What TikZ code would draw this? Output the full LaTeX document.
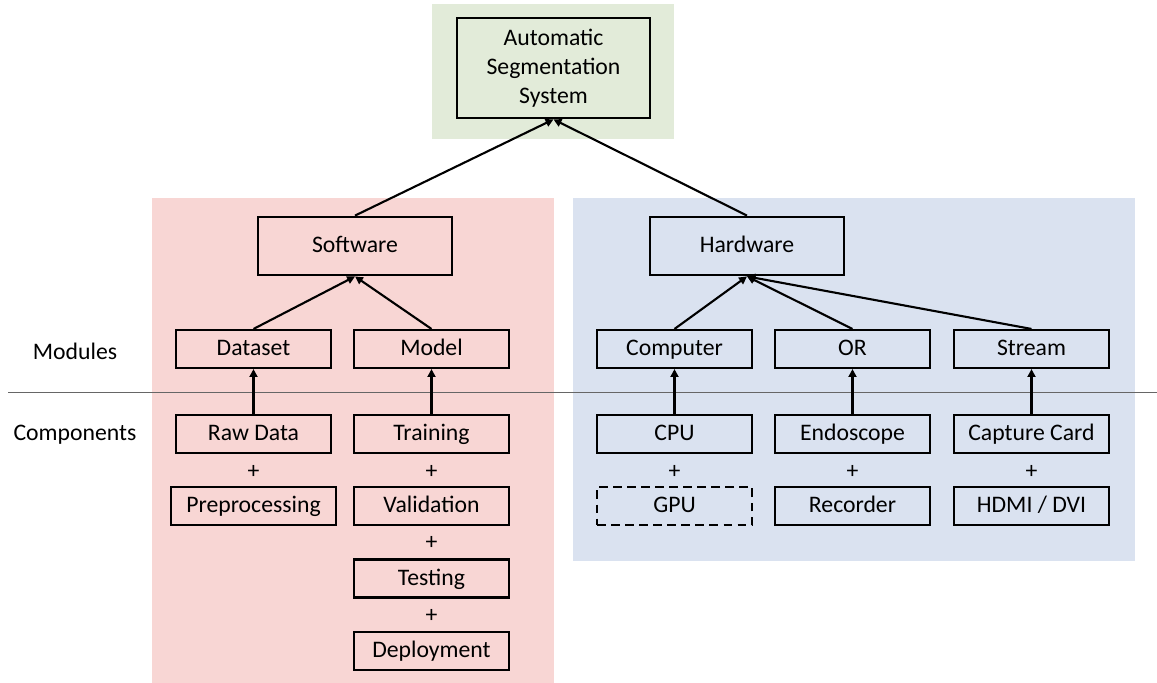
\documentclass[tikz,border=0pt]{standalone}
\usepackage{fontspec}
\setmainfont{Carlito}
\usepackage{tikz}
\usetikzlibrary{arrows,arrows.meta}
\usetikzlibrary{backgrounds,calc,positioning}
\definecolor{sysgreen}{RGB}{226,235,217}
\definecolor{swred}{RGB}{248,214,212}
\definecolor{hwblue}{RGB}{218,226,240}
\tikzset{
    box/.style={draw, line width=1.2pt, minimum width=3.1cm, minimum height=0.76cm,
        inner sep=0pt, text height=0.9em, text depth=0.12em},
    bigbox/.style={draw, line width=1.6pt, minimum width=3.88cm, minimum height=1.16cm,
        inner sep=0pt, text height=0.9em, text depth=0.12em},
    optbox/.style={box, dashed, dash pattern=on 5pt off 3pt},
    plus/.style={inner sep=0pt},
    link/.style={line width=1.2pt, -{Triangle[length=4.5pt,width=4.5pt]}}
}
\begin{document}
\begin{tikzpicture}[x=0.02cm, y=-0.02cm, font=\fontsize{13.5}{16}\selectfont]
    \useasboundingbox (0,0) rectangle (1157,683);
    \def \ymod {349}
    \def \ycomp {434}
    % background panels
    \fill[sysgreen] (432,4) rectangle (674,139);
    \fill[swred] (152,198) rectangle (554,683);
    \fill[hwblue] (573,198) rectangle (1135,561);
    \draw[gray!80!black, line width=0.5pt] (8,392) -- (1157,392);
    % row labels
    \node (lmod) at (75,351) {Modules};
    \node (lcomp) at (75,435) {Components};
    % top
    \node[draw, line width=1.6pt, minimum width=3.86cm, minimum height=2cm, align=center,
        inner sep=0pt, font=\fontsize{13.5}{16.5}\selectfont] (sys) at (553.5,68)
        {Automatic\\Segmentation\\System};
    \node[bigbox] (sw) at (355,246) {Software};
    \node[bigbox] (hw) at (747,246) {Hardware};
    % modules
    \node[box] (dataset) at (253.5,\ymod) {Dataset};
    \node[box] (model) at (431.5,\ymod) {Model};
    \node[box] (computer) at (674.5,\ymod) {Computer};
    \node[box] (or) at (852.5,\ymod) {OR};
    \node[box] (stream) at (1031.5,\ymod) {Stream};
    % components
    \node[box] (raw) at (253.5,\ycomp) {Raw Data};
    \node[box, minimum width=3.3cm] (prep) at (253.5,506) {Preprocessing};
    \node[box] (train) at (431.5,\ycomp) {Training};
    \node[box] (valid) at (431.5,506) {Validation};
    \node[box] (test) at (431.5,578.5) {Testing};
    \node[box] (deploy) at (431.5,651) {Deployment};
    \node[box] (cpu) at (674.5,\ycomp) {CPU};
    \node[optbox] (gpu) at (674.5,506) {GPU};
    \node[box] (endo) at (852.5,\ycomp) {Endoscope};
    \node[box] (rec) at (852.5,506) {Recorder};
    \node[box] (cap) at (1031.5,\ycomp) {Capture Card};
    \node[box] (hdmi) at (1031.5,506) {HDMI / DVI};
    % plus signs
    \node[plus] (p1) at (253.5,472) {+};
    \node[plus] (p2) at (431.5,472) {+};
    \node[plus] (p3) at (431.5,543) {+};
    \node[plus] (p4) at (431.5,616) {+};
    \node[plus] (p5) at (674.5,472) {+};
    \node[plus] (p6) at (852.5,472) {+};
    \node[plus] (p7) at (1031.5,472) {+};
    % arrows
    \draw[link] (sw.north) -- (sys.south);
    \draw[link] (hw.north) -- (sys.south);
    \draw[link] (dataset.north) -- (sw.south);
    \draw[link] (model.north) -- (sw.south);
    \foreach \m in {computer, or, stream}{
    \draw[link] (\m.north) -- (hw.south);}
    \draw[link] (raw) -- (dataset);
    \draw[link] (train) -- (model);
    \draw[link] (cpu) -- (computer);
    \draw[link] (endo) -- (or);
    \draw[link] (cap) -- (stream);
\end{tikzpicture}
\end{document}
